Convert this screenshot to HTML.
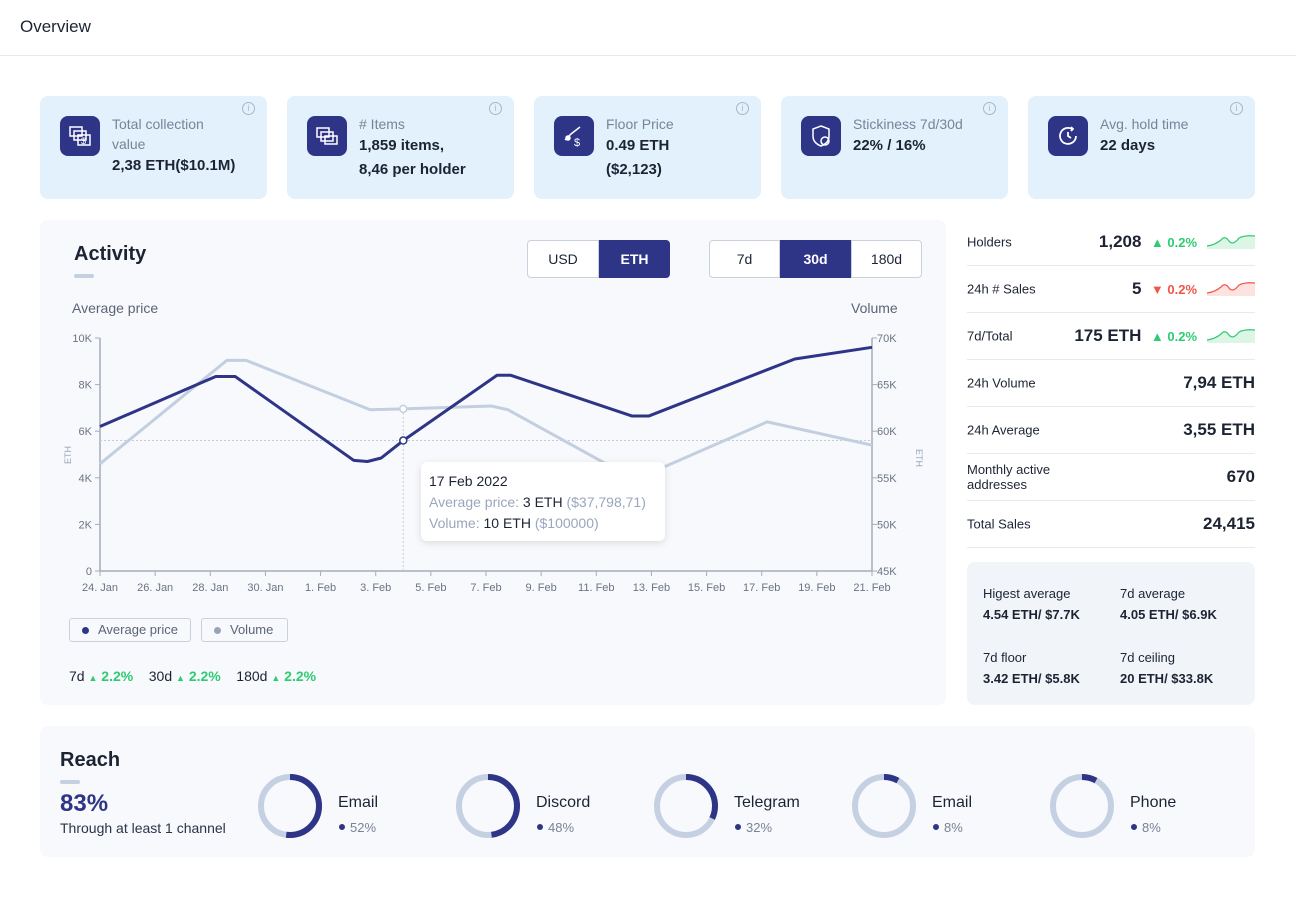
<!DOCTYPE html>
<html><head><meta charset="utf-8"><style>
*{box-sizing:border-box;margin:0;padding:0}
body{width:1296px;height:900px;background:#fff;font-family:"Liberation Sans",sans-serif;color:#1c2434;position:relative;overflow:hidden}
.abs{position:absolute}
.card{position:absolute;top:96px;width:227px;height:103px;background:#e3f1fc;border-radius:8px}
.card .ic{position:absolute;left:20px;top:20px;width:40px;height:40px;border-radius:8px;background:#2e3486}
.card .ic svg{position:absolute;left:8px;top:8px}
.card .lb{position:absolute;left:72px;top:18px;font-size:14px;color:#7a8396;line-height:20px;width:140px}
.card .vl{font-size:15px;font-weight:bold;color:#1c2434;line-height:24px}
.card .info{position:absolute;right:12px;top:6px;width:13px;height:13px;border:1px solid #aab6c8;border-radius:50%;font-size:9px;color:#aab6c8;text-align:center;line-height:11px}
.row{position:absolute;left:967px;width:288px;border-bottom:1px solid #e6e9ef;height:47px;font-size:13px}
.row .k{position:absolute;left:0;top:50%;transform:translateY(-50%);color:#1c2434}
.row .v{position:absolute;right:0;top:50%;transform:translateY(-50%);font-size:17px;font-weight:bold;white-space:nowrap}
.btn{position:absolute;height:38px;border:1px solid #c9d1dd;font-size:14px;text-align:center;line-height:36px;background:#fff}
.btn.on{background:#2e3486;color:#fff;font-weight:bold;border-color:#2e3486}
.sm{font-size:13px;color:#1c2434}
.g{color:#2ecc71;font-weight:bold}
</style></head><body>
<div class="abs" style="left:20px;top:17px;font-size:17px">Overview</div>
<div class="abs" style="left:0;top:55px;width:1296px;height:1px;background:#e6e9ef"></div>

<div class="card" style="left:40px"><div class="ic"><svg width="24" height="24" fill="none" stroke="#fff" stroke-width="1.5"><rect x="2" y="3" width="12" height="9"/><rect x="6" y="7" width="12" height="9"/><rect x="10" y="11" width="12" height="10"/><text x="13" y="20" font-size="9" fill="#fff" stroke="none">$</text></svg></div><div class="info">i</div><div class="lb" style="width:125px">Total collection value<div class="vl">2,38 ETH($10.1M)</div></div></div>
<div class="card" style="left:287px"><div class="ic"><svg width="24" height="24" fill="none" stroke="#fff" stroke-width="1.5"><rect x="2" y="4" width="12" height="9"/><rect x="6" y="8" width="12" height="9"/><rect x="10" y="12" width="12" height="8"/></svg></div><div class="info">i</div><div class="lb"># Items<div class="vl">1,859 items,<br>8,46 per holder</div></div></div>
<div class="card" style="left:534px"><div class="ic"><svg width="24" height="24" fill="none" stroke="#fff" stroke-width="1.5"><path d="M3 16 L9 10 L18 3"/><circle cx="6" cy="14" r="2" fill="#fff"/><text x="12" y="22" font-size="11" fill="#fff" stroke="none">$</text></svg></div><div class="info">i</div><div class="lb">Floor Price<div class="vl">0.49 ETH<br>($2,123)</div></div></div>
<div class="card" style="left:781px"><div class="ic"><svg width="24" height="24" fill="none" stroke="#fff" stroke-width="1.5"><path d="M12 2 L20 5 V12 Q20 19 12 22 Q4 19 4 12 V5Z"/><circle cx="16" cy="17" r="4"/></svg></div><div class="info">i</div><div class="lb">Stickiness 7d/30d<div class="vl">22% / 16%</div></div></div>
<div class="card" style="left:1028px"><div class="ic"><svg width="24" height="24" fill="none" stroke="#fff" stroke-width="1.8"><path d="M20 12 A8 8 0 1 1 16 5"/><path d="M12 8 V12 L15 14"/><path d="M15 3 L17 5 L15 7"/></svg></div><div class="info">i</div><div class="lb">Avg. hold time<div class="vl">22 days</div></div></div>

<div class="abs" style="left:40px;top:220px;width:906px;height:485px;background:#f7f9fc;border-radius:8px"></div>
<div class="abs" style="left:74px;top:243px;font-size:20px;font-weight:bold">Activity</div>
<div class="abs" style="left:74px;top:274px;width:20px;height:4px;background:#c5d1e2;border-radius:2px"></div>
<div class="btn" style="left:527px;top:240px;width:72px;border-radius:4px 0 0 4px">USD</div>
<div class="btn on" style="left:599px;top:240px;width:71px;border-radius:0 4px 4px 0">ETH</div>
<div class="btn" style="left:709px;top:240px;width:71px;border-radius:4px 0 0 4px">7d</div>
<div class="btn on" style="left:780px;top:240px;width:71px">30d</div>
<div class="btn" style="left:851px;top:240px;width:71px;border-radius:0 4px 4px 0">180d</div>
<div class="abs" style="left:72px;top:300px;font-size:14px;color:#5b6477">Average price</div>
<div class="abs" style="left:851px;top:300px;font-size:14px;color:#5b6477">Volume</div>

<svg class="abs" style="left:0;top:0" width="1296" height="900">
<g id="axes"></g><g id="marks"></g>
</svg>

<div class="abs" style="left:421px;top:462px;width:244px;height:79px;background:#fff;border-radius:6px;box-shadow:0 2px 8px rgba(0,0,0,.12);padding:9px 8px;font-size:14px;line-height:21px;color:#9aa6bd">
<div style="color:#1c2434">17 Feb 2022</div>
<div>Average price: <span style="color:#1c2434">3 ETH</span> ($37,798,71)</div>
<div>Volume: <span style="color:#1c2434">10 ETH</span> ($100000)</div></div>

<div class="abs" style="left:69px;top:618px;width:122px;height:24px;border:1px solid #c9d1dd;border-radius:3px;font-size:13px;color:#5b6477;line-height:22px;padding-left:28px">Average price<span style="position:absolute;left:12px;top:8px;width:7px;height:7px;border-radius:50%;background:#2e3486"></span></div>
<div class="abs" style="left:201px;top:618px;width:87px;height:24px;border:1px solid #c9d1dd;border-radius:3px;font-size:13px;color:#5b6477;line-height:22px;padding-left:28px">Volume<span style="position:absolute;left:12px;top:8px;width:7px;height:7px;border-radius:50%;background:#97a3b8"></span></div>
<div class="abs sm" style="left:69px;top:668px;font-size:14px">7d <span class="g" style="font-size:9px">▲</span> <span class="g">2.2%</span>&nbsp;&nbsp;&nbsp;&nbsp;30d <span class="g" style="font-size:9px">▲</span> <span class="g">2.2%</span>&nbsp;&nbsp;&nbsp;&nbsp;180d <span class="g" style="font-size:9px">▲</span> <span class="g">2.2%</span></div>

<div class="row" style="top:219px"><span class="k">Holders</span><span class="v" style="right:58px">1,208&nbsp; <span class="g" style="font-size:13px">▲ 0.2%</span></span><svg style="position:absolute;right:0;top:14px" width="48" height="16"><path d="M0 13 Q8 12 14 7 Q18 2 22 8 Q26 13 32 5 Q38 2 48 3 L48 16 L0 16Z" fill="#dcf5e6"/><path d="M0 13 Q8 12 14 7 Q18 2 22 8 Q26 13 32 5 Q38 2 48 3" fill="none" stroke="#2ecc71" stroke-width="1.2"/></svg></div>
<div class="row" style="top:266px"><span class="k">24h # Sales</span><span class="v" style="right:58px">5&nbsp; <span style="color:#f0564a;font-weight:bold;font-size:13px">▼ 0.2%</span></span><svg style="position:absolute;right:0;top:14px" width="48" height="16"><path d="M0 13 Q8 12 14 7 Q18 2 22 8 Q26 13 32 5 Q38 2 48 3 L48 16 L0 16Z" fill="#fde3e0"/><path d="M0 13 Q8 12 14 7 Q18 2 22 8 Q26 13 32 5 Q38 2 48 3" fill="none" stroke="#f0564a" stroke-width="1.2"/></svg></div>
<div class="row" style="top:313px"><span class="k">7d/Total</span><span class="v" style="right:58px">175 ETH&nbsp; <span class="g" style="font-size:13px">▲ 0.2%</span></span><svg style="position:absolute;right:0;top:14px" width="48" height="16"><path d="M0 13 Q8 12 14 7 Q18 2 22 8 Q26 13 32 5 Q38 2 48 3 L48 16 L0 16Z" fill="#dcf5e6"/><path d="M0 13 Q8 12 14 7 Q18 2 22 8 Q26 13 32 5 Q38 2 48 3" fill="none" stroke="#2ecc71" stroke-width="1.2"/></svg></div>
<div class="row" style="top:360px"><span class="k">24h Volume</span><span class="v">7,94 ETH</span></div>
<div class="row" style="top:407px"><span class="k">24h Average</span><span class="v">3,55 ETH</span></div>
<div class="row" style="top:454px"><span class="k" style="line-height:15px">Monthly active<br>addresses</span><span class="v">670</span></div>
<div class="row" style="top:501px"><span class="k">Total Sales</span><span class="v">24,415</span></div>

<div class="abs" style="left:967px;top:562px;width:288px;height:143px;background:#f1f4f8;border-radius:8px;font-size:13px">
<div class="abs" style="left:16px;top:21px;line-height:21px">Higest average<br><b>4.54 ETH/ $7.7K</b></div>
<div class="abs" style="left:153px;top:21px;line-height:21px">7d average<br><b>4.05 ETH/ $6.9K</b></div>
<div class="abs" style="left:16px;top:85px;line-height:21px">7d floor<br><b>3.42 ETH/ $5.8K</b></div>
<div class="abs" style="left:153px;top:85px;line-height:21px">7d ceiling<br><b>20 ETH/ $33.8K</b></div></div>

<div class="abs" style="left:40px;top:726px;width:1215px;height:131px;background:#f7f9fc;border-radius:8px"></div>
<div class="abs" style="left:60px;top:749px;font-size:20px;font-weight:bold">Reach</div>
<div class="abs" style="left:60px;top:780px;width:20px;height:4px;background:#c5d1e2;border-radius:2px"></div>
<div class="abs" style="left:60px;top:790px;font-size:24px;font-weight:bold;color:#2e3486">83%</div>
<div class="abs" style="left:60px;top:820px;font-size:14px;color:#2a3448">Through at least 1 channel</div>
<svg class="abs" style="left:0;top:0" width="1296" height="900" id="donuts"></svg>

<script>
const NS='http://www.w3.org/2000/svg';
const dayTicks=[0,2,4,6,8,10,12,14,16,18,20,22,24,26,28];
const tickLabels=['24. Jan','26. Jan','28. Jan','30. Jan','1. Feb','3. Feb','5. Feb','7. Feb','9. Feb','11. Feb','13. Feb','15. Feb','17. Feb','19. Feb','21. Feb'];
const leftTicks=[0,2,4,6,8,10];
const rightTicks=[45,50,55,60,65,70];
const priceDays=[0,4.2,4.9,9.2,9.7,10.2,11,14.4,14.9,19.3,19.9,25.2,28];
const priceVals=[6.2,8.35,8.35,4.75,4.7,4.85,5.6,8.4,8.4,6.65,6.65,9.1,9.6];
const volDays=[0,4.6,5.3,9.8,11,14.2,14.8,19.4,24.2,28];
const volVals=[56.5,67.6,67.6,62.3,62.4,62.7,62.3,54.8,61,58.5];
const hoverDay=11;
const x=d=>100+d*(772/28);
const yL=v=>571-v/10*233;
const yR=v=>338+(70-v)/25*233;
function el(t,a,p){const e=document.createElementNS(NS,t);for(const k in a)e.setAttribute(k,a[k]);p.appendChild(e);return e;}
const ax=document.getElementById('axes'),mk=document.getElementById('marks');
let e;
e=el('line',{x1:100,y1:338,x2:100,y2:571,stroke:'#a6adb9','stroke-width':1.5},ax);


e=el('line',{x1:872,y1:338,x2:872,y2:571,stroke:'#a6adb9','stroke-width':1.5},ax);


el('line',{x1:100,y1:571,x2:872,y2:571,stroke:'#a6adb9','stroke-width':1.5},ax);
dayTicks.forEach((d,i)=>{el('line',{x1:x(d),y1:571,x2:x(d),y2:576,stroke:'#a6adb9'},ax);
 const t=el('text',{x:x(d),y:591,'text-anchor':'middle','font-size':11,fill:'#6b7385'},ax);t.textContent=tickLabels[i];
 
 });
leftTicks.forEach(v=>{el('line',{x1:95,y1:yL(v),x2:100,y2:yL(v),stroke:'#a6adb9'},ax);
 const t=el('text',{x:92,y:yL(v)+4,'text-anchor':'end','font-size':11,fill:'#6b7385'},ax);t.textContent=v?v+'K':'0';
 
 });
rightTicks.forEach(v=>{el('line',{x1:872,y1:yR(v),x2:877,y2:yR(v),stroke:'#a6adb9'},ax);
 const t=el('text',{x:877,y:yR(v)+4,'font-size':11,fill:'#6b7385'},ax);t.textContent=v+'K';
 
 });
let t=el('text',{x:71,y:455,'font-size':9,fill:'#9aa6bd','text-anchor':'middle',transform:'rotate(-90 71 455)'},ax);t.textContent='ETH';
t=el('text',{x:916,y:458,'font-size':9,fill:'#9aa6bd','text-anchor':'middle',transform:'rotate(90 916 458)'},ax);t.textContent='ETH';
const hx=x(hoverDay),hy=yL(priceVals[priceDays.indexOf(hoverDay)]);
el('line',{x1:100,y1:hy,x2:872,y2:hy,stroke:'#c5ccd8','stroke-dasharray':'2 2'},mk);
el('line',{x1:hx,y1:yR(volVals[volDays.indexOf(hoverDay)]),x2:hx,y2:571,stroke:'#c5ccd8','stroke-dasharray':'2 2'},mk);
let p=el('polyline',{points:volDays.map((d,i)=>x(d)+','+yR(volVals[i])).join(' '),fill:'none',stroke:'#c3cfe0','stroke-width':3,'stroke-linejoin':'round'},mk);


p=el('polyline',{points:priceDays.map((d,i)=>x(d)+','+yL(priceVals[i])).join(' '),fill:'none',stroke:'#2e3486','stroke-width':3,'stroke-linejoin':'round'},mk);


el('circle',{cx:hx,cy:yR(volVals[volDays.indexOf(hoverDay)]),r:3.5,fill:'#fff',stroke:'#c3cfe0','stroke-width':1.5},mk);
e=el('circle',{cx:hx,cy:hy,r:3.5,fill:'#fff',stroke:'#2e3486','stroke-width':1.5},mk);


const chNames=['Email','Discord','Telegram','Email','Phone'];
const chVals=[52,48,32,8,8];
const ds=document.getElementById('donuts');
chNames.forEach((n,i)=>{const cx=290+i*198,cy=806,r=29,C=2*Math.PI*r;
 const g=el('g',{},ds);
 
 
 el('circle',{cx,cy,r,fill:'none',stroke:'#c5d1e2','stroke-width':6},g);
 el('circle',{cx,cy,r,fill:'none',stroke:'#2e3486','stroke-width':6,'stroke-dasharray':(C*chVals[i]/100)+' '+C,transform:`rotate(-90 ${cx} ${cy})`},g);
 let tt=el('text',{x:cx+48,y:807,'font-size':16,fill:'#1c2434'},g);tt.textContent=n;
 el('circle',{cx:cx+52,cy:827,r:3,fill:'#2e3486'},g);
 tt=el('text',{x:cx+60,y:832,'font-size':13,fill:'#7a8396'},g);tt.textContent=chVals[i]+'%';});
</script>
</body></html>
